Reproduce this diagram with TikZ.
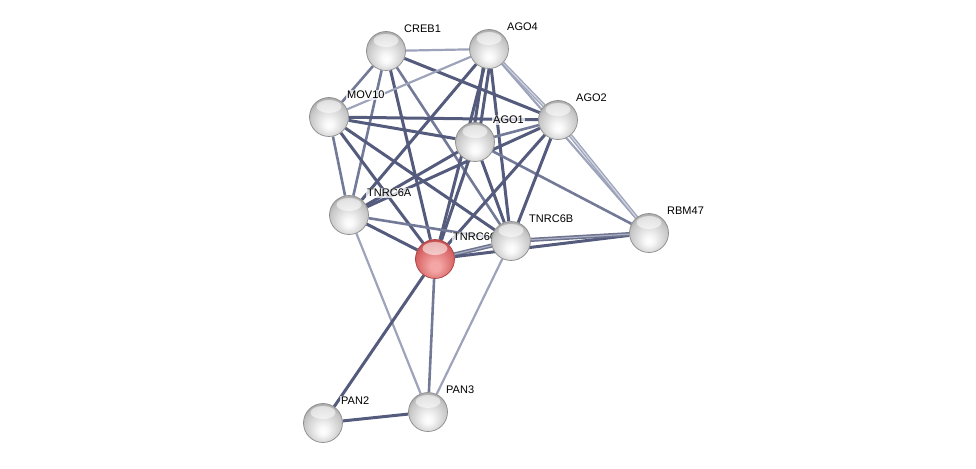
\documentclass[tikz,border=0pt]{standalone}
\usepackage{fontspec}
\setmainfont{Liberation Sans}
\definecolor{edk}{HTML}{545B7D}
\definecolor{emd}{HTML}{737A98}
\definecolor{elt}{HTML}{9DA3BA}
\definecolor{rimg}{HTML}{8C8C8C}
\definecolor{rr1}{HTML}{F4A6A6}
\definecolor{rr2}{HTML}{D96666}
\definecolor{rr3}{HTML}{C24E4E}
\pgfdeclareradialshading{sball}{\pgfpoint{0bp}{-11bp}}{color(0bp)=(white); color(6bp)=(white!97!black); color(24bp)=(black!22); color(30bp)=(black!34); color(50bp)=(black!34)}
\pgfdeclareradialshading{rball}{\pgfpoint{0bp}{-11bp}}{color(0bp)=(rr1); color(6bp)=(rr1); color(24bp)=(rr2); color(30bp)=(rr3); color(50bp)=(rr3)}
\pgfdeclarelayer{bg}
\pgfsetlayers{bg,main}
\tikzset{
  ball/.style={circle, minimum size=39pt, inner sep=0pt, draw=rimg, line width=0.7pt, shading=sball,
    path picture={\fill[white,opacity=0.55] ([yshift=-9pt]path picture bounding box.north) ellipse (12.5pt and 6.5pt);}},
  redball/.style={ball, shading=rball, draw=rr3!85!black},
  lab/.style={font=\fontsize{11}{13}\selectfont, fill=white, fill opacity=0.75, text opacity=1, inner sep=1pt, anchor=west},
  dk/.style={draw=edk, line width=3pt},
  md/.style={draw=emd, line width=2.6pt},
  lt/.style={draw=elt, line width=2.2pt},
  dbl/.style={draw=elt, line width=1.3pt, double=elt!45, double distance=1.2pt},
  dbld/.style={draw=edk!85, line width=1.5pt, double=emd!60, double distance=1.2pt},
}
\begin{document}
\begin{tikzpicture}[x=1pt,y=-1pt]
\useasboundingbox (0,0) rectangle (976,468);
% nodes
\node[ball] (CREB1) at (386,51) {};
\node[lab] at ([xshift=17pt,yshift=22pt]CREB1.center) {CREB1};
\node[ball] (AGO4) at (489,49) {};
\node[lab] at ([xshift=17pt,yshift=22pt]AGO4.center) {AGO4};
\node[ball] (MOV10) at (329,117) {};
\node[lab] at ([xshift=17pt,yshift=22pt]MOV10.center) {MOV10};
\node[ball] (AGO2) at (558,120) {};
\node[lab] at ([xshift=17pt,yshift=22pt]AGO2.center) {AGO2};
\node[ball] (AGO1) at (475,142) {};
\node[lab] at ([xshift=17pt,yshift=22pt]AGO1.center) {AGO1};
\node[ball] (TNRC6A) at (349,215) {};
\node[lab] at ([xshift=17pt,yshift=22pt]TNRC6A.center) {TNRC6A};
\node[ball] (RBM47) at (649,233) {};
\node[lab] at ([xshift=17pt,yshift=22pt]RBM47.center) {RBM47};
\node[redball] (TNRC6C) at (435,259) {};
\node[lab] at ([xshift=17pt,yshift=22pt]TNRC6C.center) {TNRC6C};
\node[ball] (TNRC6B) at (511,241) {};
\node[lab] at ([xshift=17pt,yshift=22pt]TNRC6B.center) {TNRC6B};
\node[ball] (PAN3) at (428,412) {};
\node[lab] at ([xshift=17pt,yshift=22pt]PAN3.center) {PAN3};
\node[ball] (PAN2) at (323,423) {};
\node[lab] at ([xshift=17pt,yshift=22pt]PAN2.center) {PAN2};
% edges
\begin{pgfonlayer}{bg}
\draw[lt] (CREB1) -- (AGO4);
\draw[md] (CREB1) -- (MOV10);
\draw[dk] (CREB1) -- (AGO2);
\draw[md] (CREB1) -- (TNRC6A);
\draw[dk] (CREB1) -- (TNRC6C);
\draw[md] (CREB1) -- (TNRC6B);
\draw[lt] (MOV10) -- (AGO4);
\draw[dk] (MOV10) -- (AGO2);
\draw[dk] (MOV10) -- (AGO1);
\draw[md] (MOV10) -- (TNRC6A);
\draw[dk] (MOV10) -- (TNRC6C);
\draw[dk] (MOV10) -- (TNRC6B);
\draw[dbl] (AGO4) -- (AGO2);
\draw[dk] ([xshift=-3pt]AGO4.center) -- ([xshift=-3pt]AGO1.center);
\draw[dk] ([xshift=3pt]AGO4.center) -- ([xshift=3pt]AGO1.center);
\draw[dk] (AGO4) -- (TNRC6A);
\draw[dk] (AGO4) -- (TNRC6C);
\draw[dk] (AGO4) -- (TNRC6B);
\draw[lt] (AGO4) -- (RBM47);
\draw[md] (AGO1) -- (AGO2);
\draw[dk] (AGO1) -- (TNRC6A);
\draw[dk] (AGO1) -- (TNRC6C);
\draw[dk] (AGO1) -- (TNRC6B);
\draw[md] (AGO1) -- (RBM47);
\draw[dk] (AGO2) -- (TNRC6A);
\draw[dk] (AGO2) -- (TNRC6C);
\draw[dk] (AGO2) -- (TNRC6B);
\draw[dbl] (AGO2) -- (RBM47);
\draw[dk] (TNRC6A) -- (TNRC6C);
\draw[md] (TNRC6A) -- (TNRC6B);
\draw[lt] (TNRC6A) -- (PAN3);
\draw[dbld] (TNRC6C) -- (TNRC6B);
\draw[dk] (TNRC6C) -- (RBM47);
\draw[dk] (TNRC6C) -- (PAN2);
\draw[md] (TNRC6C) -- (PAN3);
\draw[dbld] (TNRC6B) -- (RBM47);
\draw[lt] (TNRC6B) -- (PAN3);
\draw[dk] (PAN2) -- (PAN3);
\end{pgfonlayer}
\end{tikzpicture}
\end{document}
